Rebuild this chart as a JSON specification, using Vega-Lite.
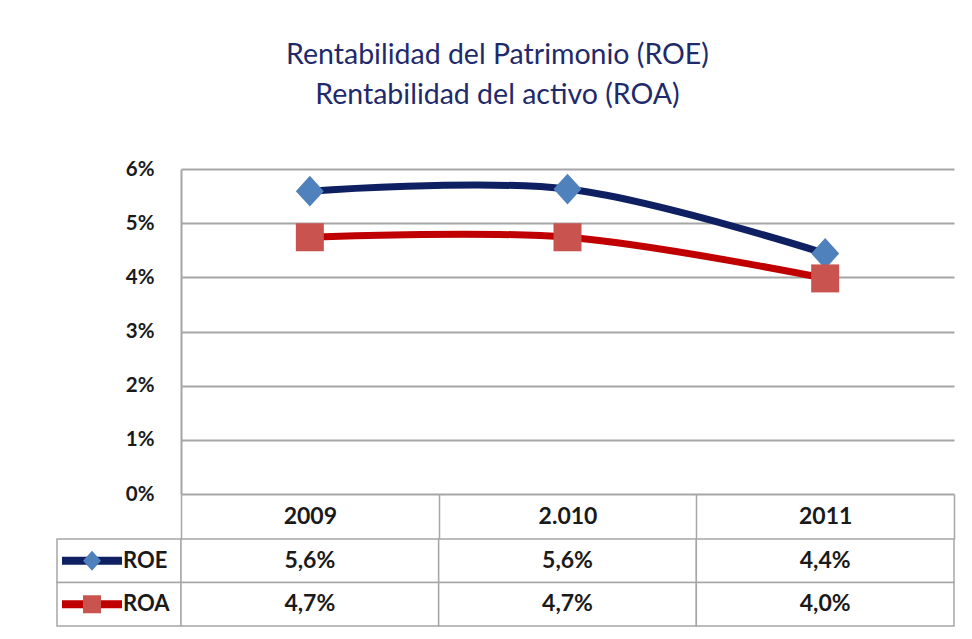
{
  "$schema": "https://vega.github.io/schema/vega-lite/v6.json",
  "padding": {"left": 56, "top": 40, "right": 12, "bottom": 8},
  "background": "white",
  "title": {
    "text": ["Rentabilidad del Patrimonio (ROE)", "Rentabilidad del activo (ROA)"],
    "font": "Lato",
    "fontSize": 28.5,
    "fontWeight": "normal",
    "color": "#1F2A6B",
    "lineHeight": 40,
    "anchor": "middle",
    "dx": -8,
    "offset": 50
  },
  "datasets": {
    "d": [
      {"anio": "2009", "serie": "ROE", "valor": 0.0559},
      {"anio": "2.010", "serie": "ROE", "valor": 0.0563},
      {"anio": "2011", "serie": "ROE", "valor": 0.0444},
      {"anio": "2009", "serie": "ROA", "valor": 0.0474},
      {"anio": "2.010", "serie": "ROA", "valor": 0.0474},
      {"anio": "2011", "serie": "ROA", "valor": 0.0398}
    ]
  },
  "config": {
    "locale": {"number": {"decimal": ",", "thousands": ".", "grouping": [3], "currency": ["", " €"]}},
    "view": {"stroke": null},
    "font": "Lato"
  },
  "columns": 2,
  "spacing": {"row": 45, "column": 0},
  "bounds": "flush",
  "concat": [
    {
      "width": 124,
      "height": 325,
      "data": {"values": []},
      "mark": "point"
    },
    {
      "width": 773,
      "height": 325,
      "data": {"name": "d"},
      "encoding": {
        "x": {
          "field": "anio",
          "type": "nominal",
          "sort": ["2009", "2.010", "2011"],
          "bandPosition": 0.5,
          "scale": {"type": "band", "paddingInner": 0, "paddingOuter": 0},
          "axis": {
            "orient": "bottom",
            "title": null,
            "domain": false,
            "grid": false,
            "ticks": true,
            "tickBand": "extent",
            "tickSize": 45,
            "tickColor": "#A6A6A6",
            "tickWidth": 1.5,
            "labelPadding": -23,
            "labelBaseline": "middle",
            "labelAngle": 0,
            "labelFont": "Lato",
            "labelFontSize": 23,
            "labelFontWeight": "bold",
            "labelColor": "#1A1A1A"
          }
        },
        "y": {
          "field": "valor",
          "type": "quantitative",
          "scale": {"domain": [0, 0.06]},
          "axis": {
            "format": ".0%",
            "values": [0, 0.01, 0.02, 0.03, 0.04, 0.05, 0.06],
            "title": null,
            "grid": true,
            "gridColor": "#A6A6A6",
            "gridWidth": 2,
            "domain": true,
            "domainColor": "#A6A6A6",
            "domainWidth": 2,
            "ticks": false,
            "labelPadding": 27,
            "labelFont": "Lato",
            "labelFontSize": 20.5,
            "labelFontWeight": "bold",
            "labelColor": "#1A1A1A"
          }
        }
      },
      "layer": [
        {
          "mark": {"type": "line", "interpolate": "catmull-rom", "strokeWidth": 7, "strokeCap": "round"},
          "encoding": {
            "color": {
              "field": "serie",
              "type": "nominal",
              "scale": {"domain": ["ROE", "ROA"], "range": ["#0E1F62", "#C00000"]},
              "legend": null
            }
          }
        },
        {
          "mark": {"type": "point", "filled": true, "opacity": 1, "size": 784, "strokeWidth": 0},
          "encoding": {
            "fill": {
              "field": "serie",
              "type": "nominal",
              "scale": {"domain": ["ROE", "ROA"], "range": ["#4F81BD", "#C9544F"]},
              "legend": null
            },
            "shape": {
              "field": "serie",
              "type": "nominal",
              "scale": {"domain": ["ROE", "ROA"], "range": ["M0,-1.1L1,0L0,1.1L-1,0Z", "square"]},
              "legend": null
            }
          }
        }
      ]
    },
    {
      "width": 124,
      "height": 87,
      "data": {"name": "d"},
      "transform": [{"filter": "datum.anio == '2009'"}],
      "encoding": {
        "y": {
          "field": "serie",
          "type": "nominal",
          "sort": ["ROE", "ROA"],
          "scale": {"type": "band", "paddingInner": 0, "paddingOuter": 0},
          "axis": null
        }
      },
      "layer": [
        {"mark": {"type": "rect", "fill": "white", "stroke": "#A6A6A6", "strokeWidth": 1.5}},
        {
          "mark": {"type": "point", "filled": true, "opacity": 1, "size": 3600, "shape": "M-1,-0.13H1V0.13H-1Z", "xOffset": -27, "strokeWidth": 0},
          "encoding": {"color": {"field": "serie", "type": "nominal", "legend": null}}
        },
        {
          "mark": {"type": "point", "filled": true, "opacity": 1, "size": 324, "xOffset": -27, "strokeWidth": 0},
          "encoding": {
            "fill": {"field": "serie", "type": "nominal", "legend": null},
            "shape": {"field": "serie", "type": "nominal", "legend": null}
          }
        },
        {
          "mark": {"type": "text", "align": "left", "baseline": "middle", "xOffset": 4, "font": "Lato", "fontSize": 22, "fontWeight": "bold", "color": "#1A1A1A"},
          "encoding": {"text": {"field": "serie"}}
        }
      ]
    },
    {
      "width": 773,
      "height": 87,
      "data": {"name": "d"},
      "encoding": {
        "x": {
          "field": "anio",
          "type": "nominal",
          "sort": ["2009", "2.010", "2011"],
          "scale": {"type": "band", "paddingInner": 0, "paddingOuter": 0},
          "axis": null
        },
        "y": {
          "field": "serie",
          "type": "nominal",
          "sort": ["ROE", "ROA"],
          "scale": {"type": "band", "paddingInner": 0, "paddingOuter": 0},
          "axis": null
        }
      },
      "layer": [
        {"mark": {"type": "rect", "fill": "white", "stroke": "#A6A6A6", "strokeWidth": 1.5}},
        {
          "mark": {"type": "text", "baseline": "middle", "font": "Lato", "fontSize": 23, "fontWeight": "bold", "color": "#1A1A1A"},
          "encoding": {"text": {"field": "valor", "type": "quantitative", "format": ".1%"}}
        }
      ]
    }
  ]
}
